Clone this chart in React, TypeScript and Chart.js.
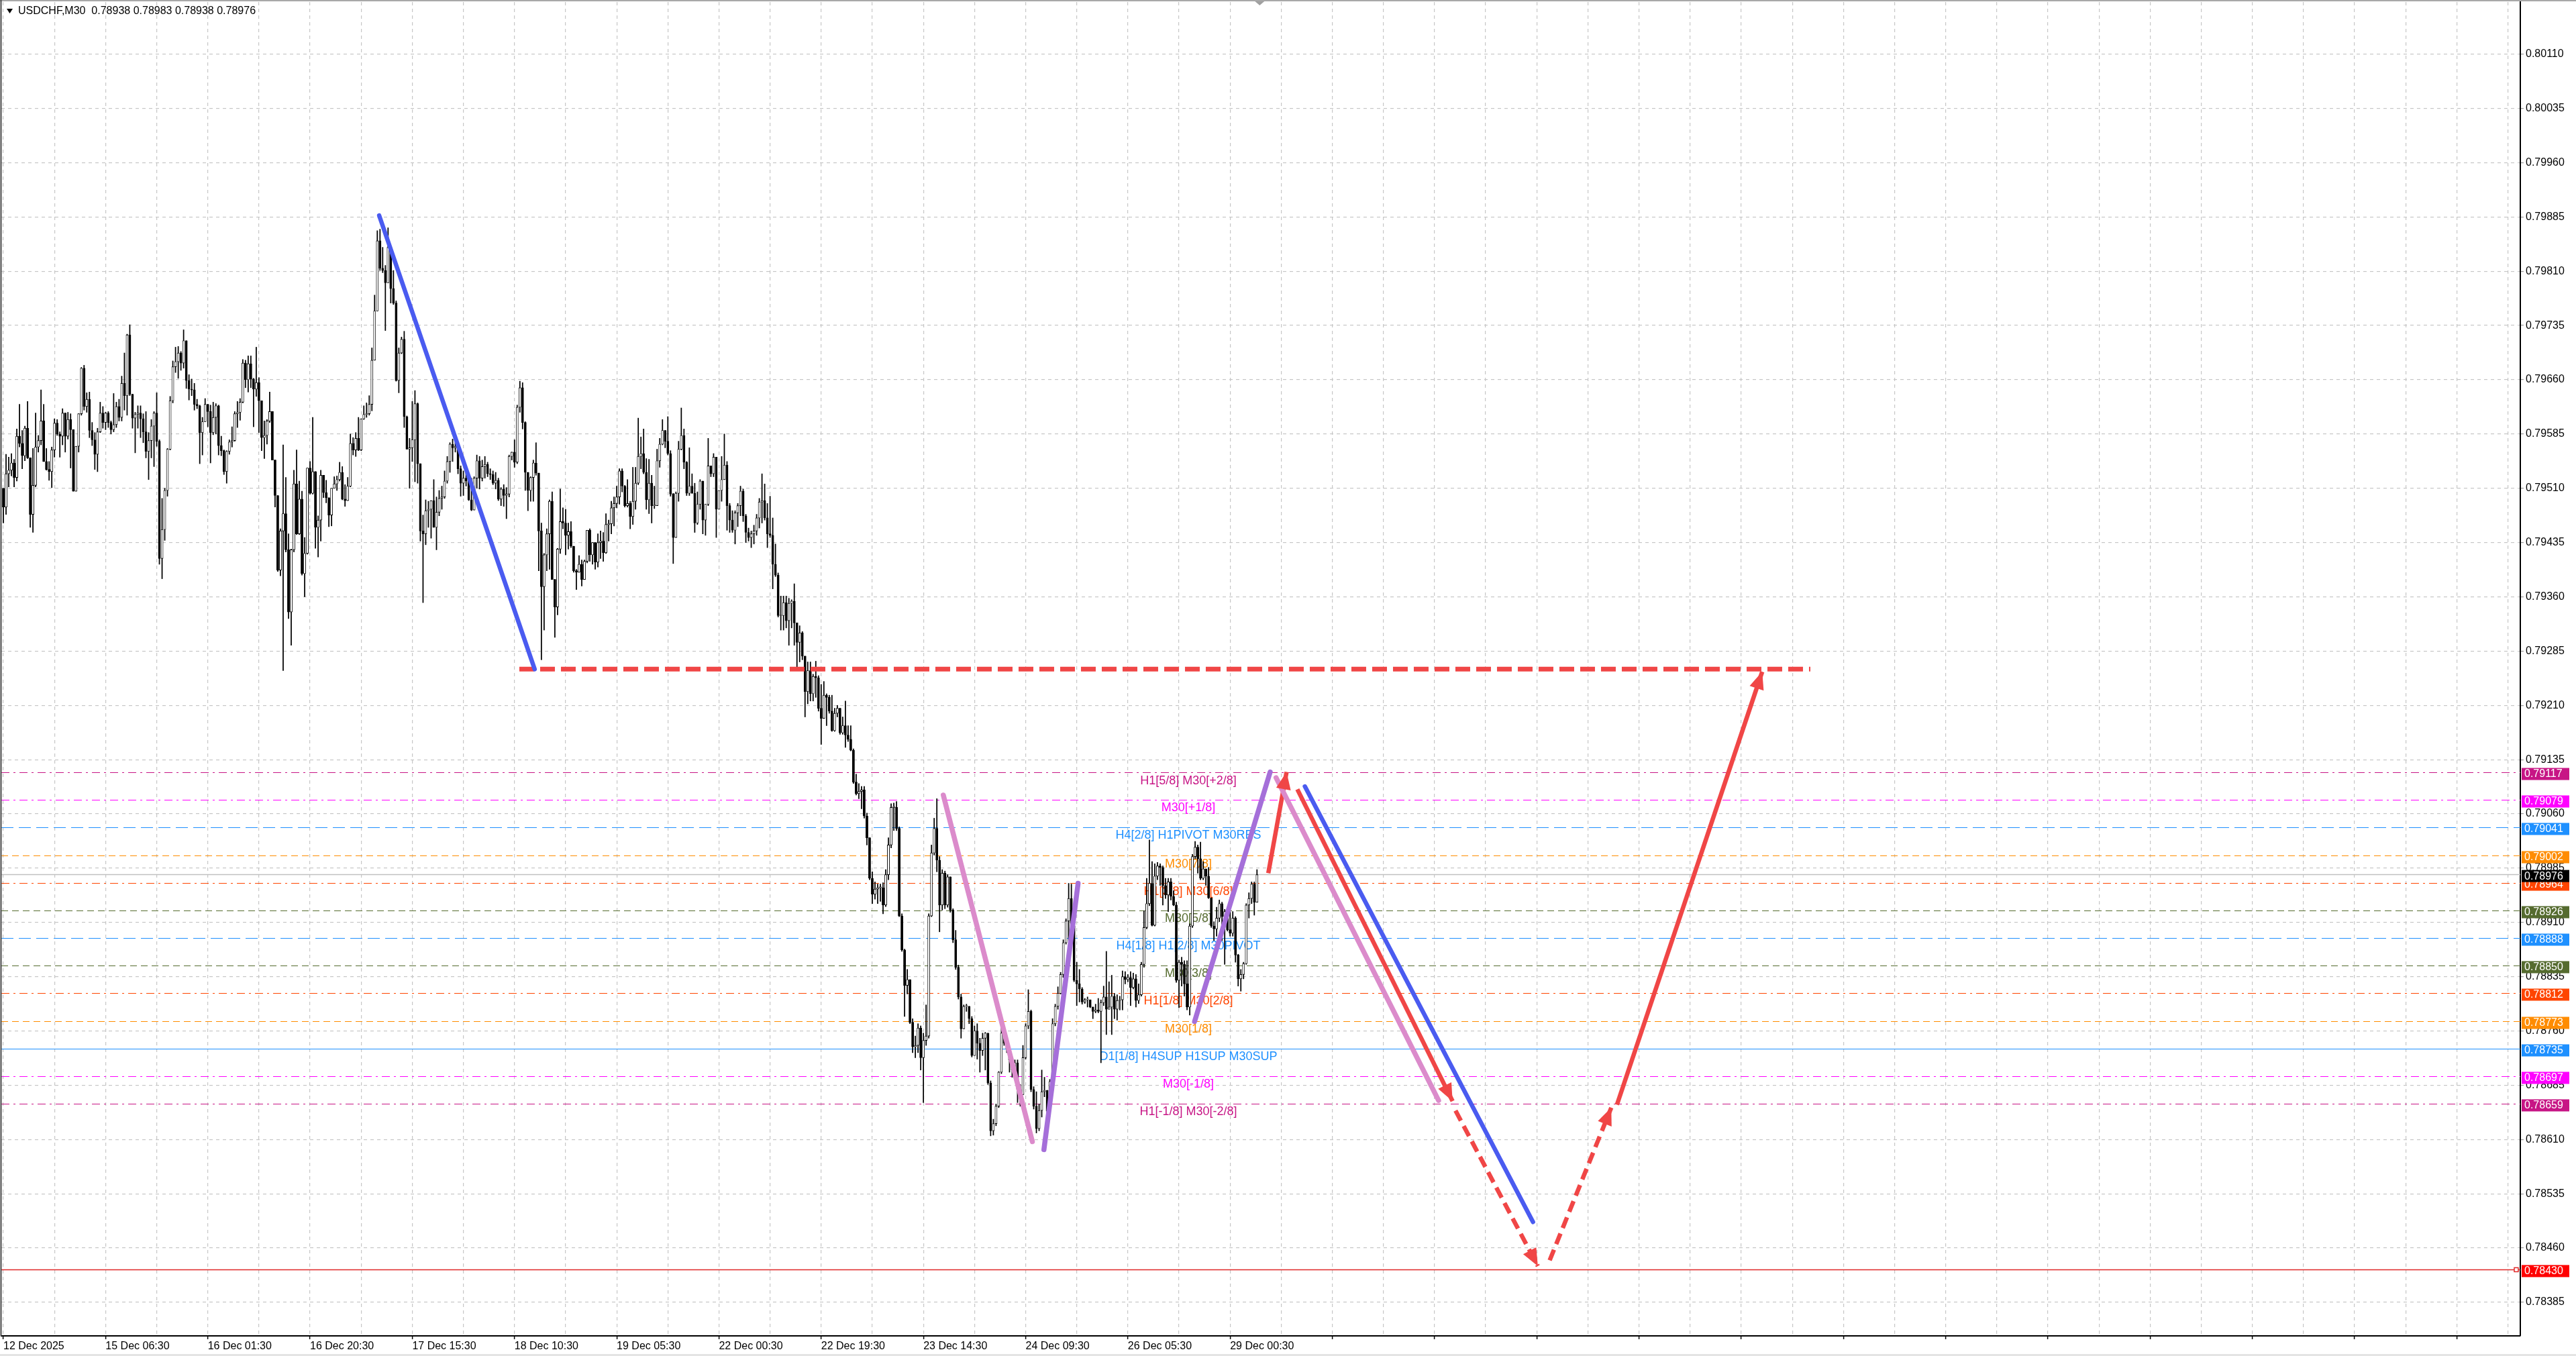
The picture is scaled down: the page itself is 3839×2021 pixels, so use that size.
import { useEffect, useRef } from 'react';
import { Chart, registerables } from 'chart.js';

Chart.register(...registerables);

// prices are stored as points above 0.78000 (1 point = 0.00001)
const BASE = 0.78;
const PT = 0.00001;

const FIRST_OPEN = 1510;
const CLOSES = [
  1484,1530,1535,1545,1525,1582,1572,1555,1593,1552,
  1474,1514,1567,1576,1603,1547,1536,1533,1563,1600,
  1585,1582,1614,1582,1605,1591,1506,1568,1613,1676,
  1623,1633,1590,1577,1557,1588,1614,1601,1614,1601,
  1591,1598,1623,1608,1655,1638,1722,1640,1607,1612,
  1614,1606,1588,1561,1576,1596,1614,1575,1413,1453,
  1507,1564,1631,1678,1685,1697,1683,1714,1659,1647,
  1646,1626,1624,1587,1602,1626,1616,1587,1608,1624,
  1569,1562,1533,1561,1574,1576,1613,1615,1629,1683,
  1660,1682,1661,1647,1656,1631,1580,1583,1603,1616,
  1549,1500,1397,1451,1475,1425,1339,1425,1516,1447,
  1495,1392,1420,1538,1503,1533,1456,1466,1528,1504,
  1497,1473,1510,1516,1522,1532,1495,1493,1513,1572,
  1563,1579,1563,1606,1612,1613,1626,1687,1755,1852,
  1814,1811,1794,1843,1786,1766,1659,1697,1716,1609,
  1564,1566,1577,1627,1544,1451,1447,1479,1481,1493,
  1456,1477,1496,1498,1520,1547,1571,1566,1568,1537,
  1517,1524,1520,1494,1480,1524,1548,1524,1540,1543,
  1530,1529,1517,1521,1495,1509,1500,1502,1554,1560,
  1546,1622,1649,1601,1532,1507,1525,1545,1531,1451,
  1374,1418,1447,1492,1384,1346,1426,1464,1462,1445,
  1450,1430,1396,1394,1405,1384,1409,1452,1418,1435,
  1408,1435,1437,1421,1460,1461,1483,1489,1498,1534,
  1513,1486,1489,1471,1492,1517,1554,1558,1532,1494,
  1517,1486,1486,1548,1571,1590,1575,1558,1502,1442,
  1503,1564,1583,1546,1503,1513,1503,1462,1488,1520,
  1466,1488,1541,1530,1553,1481,1507,1522,1542,1486,
  1466,1452,1476,1486,1506,1472,1449,1442,1447,1451,
  1469,1491,1493,1469,1447,1445,1405,1390,1334,1334,
  1352,1327,1351,1354,1324,1297,1310,1278,1229,1258,
  1226,1250,1248,1206,1192,1224,1221,1202,1175,1199,
  1206,1172,1182,1169,1163,1148,1104,1088,1091,1093,
  1057,1027,971,949,956,958,958,934,976,1017,
  1069,1069,1040,919,872,823,831,772,738,740,
  764,723,747,753,919,1006,1040,996,934,978,
  934,973,927,886,848,807,763,794,794,777,
  726,760,743,733,750,757,688,622,632,656,
  703,757,743,735,720,706,716,679,672,723,
  767,787,679,656,625,650,676,678,649,690,
  770,794,812,838,882,912,943,905,830,825,
  818,800,803,803,793,787,789,787,799,807,
  790,793,808,790,802,803,835,831,834,820,
  832,802,810,852,903,936,964,906,974,988,
  986,961,948,966,946,934,830,855,852,825,
  793,905,1001,1014,998,971,984,974,944,905,
  901,916,936,918,925,900,895,916,865,832,
  838,853,934,943,963,938,976,
];
const HIGHS = [
  1510,1557,1553,1558,1550,1592,1626,1590,1596,1630,
  1551,1565,1614,1583,1646,1626,1565,1547,1567,1606,
  1605,1588,1620,1613,1615,1613,1556,1568,1613,1677,
  1680,1642,1643,1601,1587,1593,1629,1623,1615,1616,
  1603,1641,1629,1633,1665,1697,1723,1736,1640,1615,
  1624,1624,1613,1616,1587,1605,1616,1642,1577,1496,
  1510,1565,1637,1686,1705,1706,1699,1729,1714,1667,
  1661,1655,1633,1625,1608,1634,1626,1625,1629,1627,
  1625,1582,1563,1562,1577,1595,1616,1630,1634,1688,
  1687,1693,1693,1662,1705,1663,1631,1603,1605,1643,
  1615,1547,1500,1454,1570,1525,1447,1426,1535,1563,
  1520,1506,1442,1538,1547,1608,1533,1472,1535,1528,
  1521,1497,1510,1526,1527,1546,1540,1515,1525,1585,
  1580,1587,1608,1606,1624,1628,1638,1704,1777,1866,
  1868,1843,1818,1870,1842,1811,1769,1704,1719,1727,
  1610,1579,1630,1645,1628,1543,1473,1494,1492,1493,
  1522,1498,1507,1513,1534,1554,1573,1578,1573,1547,
  1541,1534,1537,1522,1524,1526,1556,1554,1549,1554,
  1546,1537,1534,1532,1524,1511,1515,1511,1556,1560,
  1577,1625,1658,1656,1602,1532,1526,1549,1573,1531,
  1462,1420,1454,1494,1505,1384,1427,1509,1483,1481,
  1462,1464,1430,1398,1417,1411,1411,1452,1454,1435,
  1431,1447,1451,1449,1475,1466,1492,1498,1513,1537,
  1537,1514,1522,1492,1539,1539,1607,1581,1592,1551,
  1550,1528,1513,1564,1579,1605,1590,1609,1562,1503,
  1505,1575,1621,1592,1547,1566,1530,1517,1505,1522,
  1505,1488,1579,1540,1558,1520,1507,1554,1585,1547,
  1489,1479,1479,1489,1513,1509,1474,1455,1451,1459,
  1474,1496,1530,1516,1489,1499,1469,1433,1393,1361,
  1361,1361,1358,1356,1378,1324,1320,1312,1273,1270,
  1270,1253,1271,1251,1239,1243,1226,1224,1224,1206,
  1210,1199,1194,1216,1182,1182,1150,1115,1102,1098,
  1098,1061,1023,980,966,963,963,965,983,1027,
  1074,1075,1077,1042,922,873,845,831,777,753,
  770,767,757,796,922,1017,1054,1081,1001,983,
  981,976,949,929,899,851,811,796,797,794,
  780,767,770,750,757,758,746,691,638,659,
  704,767,758,753,736,723,720,720,686,740,
  770,817,789,683,676,659,706,696,676,693,
  777,797,821,841,886,915,964,963,865,855,
  845,820,805,807,803,793,797,805,803,822,
  870,828,837,812,810,808,843,842,838,842,
  840,838,825,855,926,971,1024,994,991,993,
  991,988,971,971,971,954,938,858,862,857,
  857,908,1004,1022,1017,1021,994,981,986,944,
  911,931,941,938,928,931,925,925,918,866,
  845,855,936,951,966,966,983,
];
const LOWS = [
  1462,1474,1512,1527,1512,1520,1567,1537,1548,1551,
  1456,1449,1512,1560,1570,1547,1535,1521,1511,1553,
  1583,1553,1570,1560,1578,1538,1506,1511,1560,1611,
  1618,1615,1580,1569,1536,1533,1587,1593,1591,1594,
  1585,1588,1594,1603,1603,1618,1611,1638,1593,1559,
  1593,1580,1573,1552,1522,1552,1540,1568,1405,1385,
  1438,1499,1563,1628,1670,1662,1673,1676,1648,1632,
  1638,1618,1620,1544,1556,1603,1595,1545,1584,1585,
  1556,1555,1529,1517,1557,1567,1575,1594,1604,1628,
  1649,1643,1649,1595,1637,1587,1562,1551,1571,1601,
  1549,1484,1395,1389,1258,1422,1330,1293,1422,1446,
  1446,1390,1360,1419,1502,1502,1427,1415,1437,1497,
  1490,1457,1458,1511,1507,1520,1494,1485,1493,1512,
  1556,1554,1562,1562,1605,1608,1611,1617,1687,1755,
  1811,1808,1728,1795,1766,1764,1658,1642,1696,1594,
  1564,1510,1547,1519,1517,1437,1352,1432,1456,1441,
  1456,1425,1472,1481,1496,1517,1532,1547,1560,1530,
  1499,1500,1513,1493,1479,1480,1510,1509,1520,1524,
  1526,1522,1515,1509,1493,1486,1485,1468,1498,1549,
  1539,1544,1615,1592,1507,1479,1492,1492,1528,1396,
  1273,1314,1396,1398,1384,1304,1335,1420,1454,1418,
  1426,1428,1394,1370,1394,1375,1384,1407,1409,1405,
  1398,1401,1413,1409,1420,1437,1447,1458,1483,1488,
  1505,1484,1484,1454,1460,1481,1515,1537,1530,1481,
  1475,1462,1482,1486,1539,1570,1566,1556,1499,1406,
  1443,1492,1563,1537,1500,1500,1503,1449,1460,1481,
  1447,1445,1486,1526,1526,1442,1491,1492,1522,1452,
  1449,1449,1433,1457,1472,1464,1435,1437,1428,1433,
  1445,1455,1462,1466,1428,1442,1371,1388,1332,1314,
  1314,1317,1293,1317,1293,1258,1270,1273,1194,1212,
  1216,1216,1221,1202,1156,1192,1182,1199,1174,1174,
  1194,1170,1170,1152,1160,1147,1102,1086,1081,1067,
  1054,1017,969,936,942,936,939,922,932,969,
  1013,1037,1037,918,870,780,811,770,730,723,
  730,706,661,740,750,918,1003,980,897,927,
  929,931,924,882,845,804,750,763,787,770,
  724,746,721,703,726,706,686,615,616,629,
  654,701,740,730,703,696,696,661,656,681,
  721,763,676,652,619,622,641,669,641,646,
  689,767,790,811,834,880,885,903,828,795,
  800,797,798,793,792,777,785,785,716,795,
  755,790,755,777,775,789,789,825,828,795,
  818,793,798,808,848,901,933,905,905,969,
  961,934,943,925,941,933,827,792,822,808,
  789,782,903,998,978,969,969,961,943,903,
  885,891,911,885,852,898,891,891,855,822,
  815,832,852,916,936,920,938,
];

const BARS_PER_LABEL = 38;
const TIME_LABELS = [
  '12 Dec 2025', '15 Dec 06:30', '16 Dec 01:30', '16 Dec 20:30', '17 Dec 15:30',
  '18 Dec 10:30', '19 Dec 05:30', '22 Dec 00:30', '22 Dec 19:30', '23 Dec 14:30',
  '24 Dec 09:30', '26 Dec 05:30', '29 Dec 00:30',
];
const PRICE_TICKS = [
  0.80110, 0.80035, 0.79960, 0.79885, 0.79810, 0.79735, 0.79660, 0.79585,
  0.79510, 0.79435, 0.79360, 0.79285, 0.79210, 0.79135, 0.79060, 0.78985,
  0.78910, 0.78835, 0.78760, 0.78685, 0.78610, 0.78535, 0.78460, 0.78385,
];

const LEVEL_PRICES = [
  0.79117, 0.79079, 0.79041, 0.79002, 0.78964, 0.78926, 0.78888,
  0.78850, 0.78812, 0.78773, 0.78735, 0.78697, 0.78659,
];
const LEVEL_NAMES = [
  'H1[5/8] M30[+2/8]', 'M30[+1/8]', 'H4[2/8] H1PIVOT M30RES', 'M30[7/8]',
  'H1[3/8] M30[6/8]', 'M30[5/8]', 'H4[1/8] H1[2/8] M30PIVOT', 'M30[3/8]',
  'H1[1/8] M30[2/8]', 'M30[1/8]', 'D1[1/8] H4SUP H1SUP M30SUP', 'M30[-1/8]',
  'H1[-1/8] M30[-2/8]',
];
const LEVEL_LABEL_BAR = 440.5;
const CURRENT_PRICE = 0.78976;
const STOP_PRICE = 0.7843;
const HEADER = 'USDCHF,M30  0.78938 0.78983 0.78938 0.78976';

// hand drawn objects, [bar index, price]
const BLUE_DOWN = [[139.7, 0.79887], [197.5, 0.7926]];
const TARGET_LINE = [[191.8, 0.7926], [671.7, 0.7926]];
const PINK_DOWN = [[349.4, 0.79086], [382.5, 0.78607]];
const PURPLE_UP = [[386.8, 0.78596], [399.5, 0.78964]];
const PURPLE_UP_2 = [[442.8, 0.78773], [470.9, 0.79118]];
const RED_UP_SHORT = [[470.2, 0.78978], [477.0, 0.79118]];
const PINK_DOWN_2 = [[473.1, 0.7911], [533.5, 0.78664]];
const RED_DOWN = [[481.0, 0.79094], [538.7, 0.78663]];
const BLUE_DOWN_2 = [[483.8, 0.79098], [568.6, 0.78496]];
const RED_DASH_DOWN = [[539.8, 0.7865], [570.4, 0.78435]];
const RED_DASH_UP = [[574.8, 0.78443], [597.7, 0.78654]];
const RED_UP_LONG = [[599.8, 0.78658], [653.8, 0.792565]];

// styles
const FONT = '"Liberation Sans", Arial, Helvetica, sans-serif';
const X_MIN = -0.75;
const X_MAX = 935.6;
const Y_MIN = 0.7833858;
const Y_MAX = 0.8018205;
const GRID = '#c6c6c6';
const BLUE = '#4a5bf0';
const PINK = '#db8bcb';
const PURPLE = '#a56fd9';
const RED = '#f04646';
const DASH_DOT = [12, 6, 3, 6];
const DASHED = [10, 6];
const LONG_DASH = [18, 8];
const LEVEL_COLORS = [
  '#c71585', '#ff00ff', '#1e90ff', '#ff8c00', '#ff4500', '#556b2f', '#1e90ff',
  '#556b2f', '#ff4500', '#ff8c00', '#1e90ff', '#ff00ff', '#c71585',
];
const LEVEL_DASHES = [
  DASH_DOT, DASH_DOT, LONG_DASH, DASHED, DASH_DOT, DASHED, LONG_DASH,
  DASHED, DASH_DOT, DASHED, [], DASH_DOT, DASH_DOT,
];

const TRENDS = [
  { pts: BLUE_DOWN, color: BLUE, width: 6.5, dash: [], arrow: false },
  { pts: TARGET_LINE, color: RED, width: 7, dash: [22, 9], arrow: false },
  { pts: PINK_DOWN, color: PINK, width: 7.5, dash: [], arrow: false },
  { pts: PURPLE_UP, color: PURPLE, width: 7.5, dash: [], arrow: false },
  { pts: PURPLE_UP_2, color: PURPLE, width: 7.5, dash: [], arrow: false },
  { pts: PINK_DOWN_2, color: PINK, width: 7.5, dash: [], arrow: false },
  { pts: BLUE_DOWN_2, color: BLUE, width: 6.5, dash: [], arrow: false },
  { pts: RED_UP_SHORT, color: RED, width: 6.5, dash: [], arrow: true },
  { pts: RED_DOWN, color: RED, width: 6.5, dash: [], arrow: true },
  { pts: RED_DASH_DOWN, color: RED, width: 6.5, dash: [17, 9], arrow: true },
  { pts: RED_DASH_UP, color: RED, width: 6.5, dash: [17, 9], arrow: true },
  { pts: RED_UP_LONG, color: RED, width: 6.5, dash: [], arrow: true },
];

const price = (p: number) => BASE + p * PT;

export default function App() {
  const canvasRef = useRef<HTMLCanvasElement>(null);
  const chartRef = useRef<Chart | null>(null);

  useEffect(() => {
    document.body.style.margin = '0';
    if (!canvasRef.current) return;

    const n = Math.min(CLOSES.length, HIGHS.length, LOWS.length);
    const wicks: any[] = [];
    const bodies: any[] = [];
    const bodyColors: string[] = [];
    for (let i = 0; i < n; i++) {
      const o = i === 0 ? FIRST_OPEN : CLOSES[i - 1];
      const c = CLOSES[i];
      const hi = Math.max(HIGHS[i], o, c);
      const lo = Math.min(LOWS[i], o, c);
      const bot = Math.min(o, c);
      const top = Math.max(Math.max(o, c), bot + 1);
      wicks.push({ x: i, y: [price(lo), price(hi)] });
      bodies.push({ x: i, y: [price(bot), price(top)] });
      bodyColors.push(c >= o ? '#ffffff' : '#000000');
    }

    const hline = (p: number, color: string, width: number, dash: number[]) => ({
      type: 'line',
      data: [{ x: X_MIN, y: p }, { x: X_MAX, y: p }],
      borderColor: color,
      borderWidth: width,
      borderDash: dash,
      pointRadius: 0,
      order: 6,
    });

    const datasets: any[] = [];
    LEVEL_PRICES.forEach((p, i) => datasets.push(hline(p, LEVEL_COLORS[i], 1.1, LEVEL_DASHES[i])));
    datasets.push(hline(CURRENT_PRICE, '#c0c0c0', 1.5, []));
    datasets.push(hline(STOP_PRICE, '#e02828', 1.5, []));
    const wickIndex = datasets.length;
    datasets.push({
      type: 'bar', data: wicks, backgroundColor: '#000', borderWidth: 0,
      barThickness: 1.1, grouped: false, order: 4,
    });
    datasets.push({
      type: 'bar', data: bodies, backgroundColor: bodyColors, borderColor: '#000',
      borderWidth: 0.9, borderSkipped: false, barThickness: 3.2, grouped: false, order: 3,
    });
    const arrowIdx: number[] = [];
    TRENDS.forEach((t) => {
      if (t.arrow) arrowIdx.push(datasets.length);
      datasets.push({
        type: 'line',
        data: t.pts.map(([x, y]) => ({ x, y })),
        borderColor: t.color,
        borderWidth: t.width,
        borderDash: t.dash,
        borderCapStyle: t.arrow || t.dash.length ? 'butt' : 'round',
        pointRadius: 0,
        order: 1,
      });
    });

    const decor = {
      id: 'mtDecor',
      beforeDraw(chart: any) {
        const { ctx, width, height } = chart;
        ctx.save();
        ctx.fillStyle = '#fff';
        ctx.fillRect(0, 0, width, height);
        ctx.restore();
      },
      beforeDatasetDraw(chart: any, args: any) {
        if (args.index !== wickIndex) return;
        const { ctx, scales } = chart;
        const x = scales.x.getPixelForValue(LEVEL_LABEL_BAR);
        ctx.save();
        ctx.font = `18px ${FONT}`;
        ctx.textAlign = 'center';
        ctx.textBaseline = 'middle';
        LEVEL_PRICES.forEach((p, i) => {
          ctx.fillStyle = LEVEL_COLORS[i];
          ctx.fillText(LEVEL_NAMES[i], x, scales.y.getPixelForValue(p) + 12);
        });
        ctx.restore();
      },
      afterDatasetsDraw(chart: any) {
        const { ctx } = chart;
        arrowIdx.forEach((di) => {
          const pts = chart.getDatasetMeta(di).data;
          const a = pts[pts.length - 2];
          const b = pts[pts.length - 1];
          const ang = Math.atan2(b.y - a.y, b.x - a.x);
          const len = 26;
          const half = 11;
          const bx = b.x - Math.cos(ang) * len;
          const by = b.y - Math.sin(ang) * len;
          ctx.save();
          ctx.fillStyle = RED;
          ctx.beginPath();
          ctx.moveTo(b.x, b.y);
          ctx.lineTo(bx + Math.sin(ang) * half, by - Math.cos(ang) * half);
          ctx.lineTo(bx - Math.sin(ang) * half, by + Math.cos(ang) * half);
          ctx.closePath();
          ctx.fill();
          ctx.restore();
        });
      },
      afterDraw(chart: any) {
        const { ctx, chartArea, scales, width, height } = chart;
        ctx.save();
        // frame
        ctx.fillStyle = '#a8a8a8';
        ctx.fillRect(0, 0, width, 2);
        ctx.fillStyle = '#e4e4e4';
        ctx.fillRect(0, height - 3, width, 3);
        ctx.fillStyle = '#4a4a4a';
        ctx.fillRect(chartArea.left - 1.5, 0, 2, chartArea.bottom);
        // chart shift marker
        const sx = scales.x.getPixelForValue(n);
        ctx.fillStyle = '#a0a0a0';
        ctx.beginPath();
        ctx.moveTo(sx - 7, 2);
        ctx.lineTo(sx + 7, 2);
        ctx.lineTo(sx, 8);
        ctx.closePath();
        ctx.fill();
        // header
        ctx.fillStyle = '#000';
        ctx.beginPath();
        ctx.moveTo(10, 13);
        ctx.lineTo(19, 13);
        ctx.lineTo(14.5, 20);
        ctx.closePath();
        ctx.fill();
        ctx.font = `16px ${FONT}`;
        ctx.textAlign = 'left';
        ctx.textBaseline = 'middle';
        ctx.fillText(HEADER, 27, 17);
        // stop line end marker
        const ys = scales.y.getPixelForValue(STOP_PRICE);
        ctx.fillStyle = '#fff';
        ctx.strokeStyle = '#e02828';
        ctx.lineWidth = 1.5;
        ctx.fillRect(chartArea.right - 9, ys - 3, 6, 6);
        ctx.strokeRect(chartArea.right - 9, ys - 3, 6, 6);
        // price tags
        const tag = (p: number, color: string) => {
          const y = scales.y.getPixelForValue(p) + 2;
          ctx.fillStyle = color;
          ctx.fillRect(chartArea.right + 2, y - 9, 71, 18);
          ctx.fillStyle = '#fff';
          ctx.fillText(p.toFixed(5), chartArea.right + 6, y + 0.5);
        };
        LEVEL_PRICES.forEach((p, i) => tag(p, LEVEL_COLORS[i]));
        tag(CURRENT_PRICE, '#000000');
        tag(STOP_PRICE, '#ff0000');
        ctx.restore();
      },
    };

    if (chartRef.current) chartRef.current.destroy();
    chartRef.current = new Chart(canvasRef.current, {
      type: 'line',
      data: { datasets },
      options: {
        animation: false,
        responsive: true,
        maintainAspectRatio: false,
        devicePixelRatio: 1,
        events: [],
        layout: { padding: { left: 2, top: 3, right: 0, bottom: 0 } },
        plugins: { legend: { display: false }, tooltip: { enabled: false } },
        scales: {
          x: {
            type: 'linear',
            min: X_MIN,
            max: X_MAX,
            offset: false,
            grid: {
              color: GRID, lineWidth: 1.2, offset: false, drawTicks: true, tickLength: 5,
              tickWidth: 1.5,
              tickColor: (c: any) => ((c.tick ? c.tick.value : 1) % BARS_PER_LABEL === 0 ? '#000' : 'rgba(0,0,0,0)'),
            },
            border: { display: true, color: '#000', width: 2, dash: [5, 5] },
            afterBuildTicks: (s: any) => {
              const t = [];
              for (let v = 0; v <= X_MAX; v += BARS_PER_LABEL / 2) t.push({ value: v });
              s.ticks = t;
            },
            afterFit: (s: any) => {
              s.height = 30;
              s.paddingLeft = 0;
              s.paddingRight = 0;
            },
            ticks: {
              autoSkip: false, maxRotation: 0, minRotation: 0, align: 'start', padding: 1,
              color: '#000', font: { size: 16, family: FONT },
              callback: (v: any) => {
                const k = Number(v) / BARS_PER_LABEL;
                return Number.isInteger(k) && k < TIME_LABELS.length ? TIME_LABELS[k] : '';
              },
            },
          },
          y: {
            type: 'linear',
            position: 'right',
            min: Y_MIN,
            max: Y_MAX,
            beginAtZero: false,
            grid: { color: GRID, lineWidth: 1.2, drawTicks: true, tickLength: 5, tickColor: '#9a9a9a' },
            border: { display: true, color: '#000', width: 2, dash: [5, 5] },
            afterBuildTicks: (s: any) => { s.ticks = PRICE_TICKS.map((v) => ({ value: v })); },
            afterFit: (s: any) => {
              s.width = 83;
              s.paddingTop = 0;
              s.paddingBottom = 0;
            },
            ticks: {
              autoSkip: false, padding: 3, color: '#000', font: { size: 16, family: FONT },
              callback: (v: any) => Number(v).toFixed(5),
            },
          },
        },
      } as any,
      plugins: [decor],
    });

    return () => { chartRef.current?.destroy(); chartRef.current = null; };
  }, []);

  return (
    <div style={{ width: 3839, height: 2021, position: 'relative', background: '#fff' }}>
      <canvas ref={canvasRef} />
    </div>
  );
}
